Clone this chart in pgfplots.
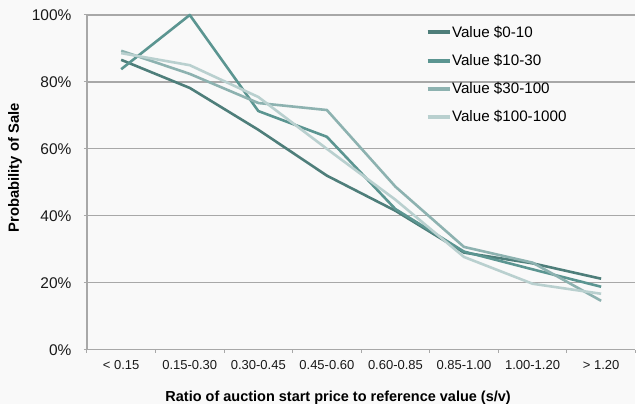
\documentclass[border=0pt]{standalone}
\usepackage{pgfplots}
\pgfplotsset{compat=1.18}
\usepackage{fontspec}
\setmainfont{Liberation Sans}
\definecolor{bg}{HTML}{F9F9F9}
\definecolor{gridc}{HTML}{A8A8A8}
\definecolor{sA}{HTML}{4E7E7A}
\definecolor{sB}{HTML}{5B9591}
\definecolor{sC}{HTML}{8DB2B0}
\definecolor{sD}{HTML}{B9D0CF}
\begin{document}
\begin{tikzpicture}
\fill[bg] (-87pt,-54pt) rectangle (549pt,350pt);
\begin{axis}[
  scale only axis,
  width=549pt, height=335pt,
  xmin=-0.5, xmax=7.5,
  ymin=0, ymax=100,
  clip=false,
  axis x line*=bottom, axis y line*=left,
  axis line style={-, gridc, line width=1.2pt},
  xtick={-0.5,0.5,...,7.5},
  x tick label as interval,
  xticklabels={< 0.15,0.15-0.30,0.30-0.45,0.45-0.60,0.60-0.85,0.85-1.00,1.00-1.20,> 1.20},
  ytick={0,20,...,100},
  yticklabels={0\%,20\%,40\%,60\%,80\%,100\%},
  tick align=outside,
  major tick length=3pt,
  tick style={gridc, line width=1pt},
  ymajorgrids,
  grid style={gridc, line width=1.2pt},
  /pgf/number format/assume math mode=true,
  xticklabel style={font=\fontsize{13}{15}\selectfont, text=black!90, yshift=-4pt},
  yticklabel style={font=\fontsize{15.5}{18}\selectfont, text=black!90, xshift=-9pt},
  xlabel={\textbf{Ratio of auction start price to reference value (s/v)}},
  ylabel={\textbf{Probability of Sale}},
  xlabel style={font=\fontsize{14.5}{17}\selectfont, at={(axis description cs:0.458,-0.145)}, anchor=center},
  ylabel style={font=\fontsize{14.8}{17}\selectfont, at={(axis description cs:-0.131,0.543)}, anchor=center},
  legend style={draw=none, fill=none, at={(0.617,0.969)}, anchor=north west,
    font=\fontsize{15.2}{18}\selectfont, row sep=14.5pt, inner sep=0pt,
    nodes={inner sep=0.5pt, anchor=west}},
  legend cell align=left,
  legend image code/.code={\draw[#1, line width=4pt] (0pt,0pt) -- (22pt,0pt);},
  every axis plot/.append style={line width=2.6pt, line join=round, mark=none},
]
\addplot[sA] coordinates {(0,86.6) (1,78.2) (2,65.7) (3,52.0) (4,41.5) (5,29.0) (6,25.8) (7,21.2)};
\addlegendentry{Value \$0-10}
\addplot[sB] coordinates {(0,83.8) (1,100) (2,71.3) (3,63.6) (4,42.0) (5,29.3) (6,24.0) (7,18.8)};
\addlegendentry{Value \$10-30}
\addplot[sC] coordinates {(0,89.3) (1,82.4) (2,73.7) (3,71.6) (4,48.7) (5,30.7) (6,26.0) (7,14.6)};
\addlegendentry{Value \$30-100}
\addplot[sD] coordinates {(0,88.6) (1,85.0) (2,75.5) (3,60.0) (4,44.8) (5,27.7) (6,19.7) (7,16.7)};
\addlegendentry{Value \$100-1000}
\end{axis}
\end{tikzpicture}
\end{document}
